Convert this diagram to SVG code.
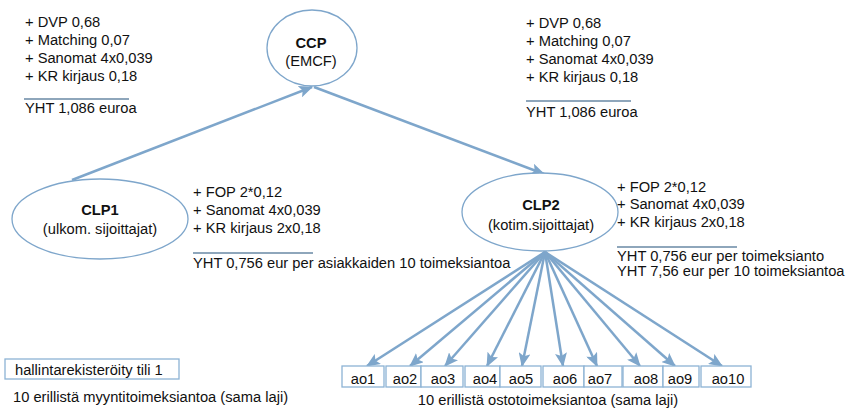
<svg xmlns="http://www.w3.org/2000/svg" width="847" height="411" viewBox="0 0 847 411">
  <style>
    text { font-family: "Liberation Sans", Arial, sans-serif; font-size: 14.7px; fill: #111111; }
    .b { font-weight: bold; }
    .c { text-anchor: middle; }
    .node { fill: #ffffff; stroke: #7ea6cb; stroke-width: 1.3; }
    .box { fill: #ffffff; stroke: #8db3d5; stroke-width: 1.3; }
    .conn { stroke: #7ea6cb; stroke-width: 2.5; fill: none; marker-end: url(#arrow); }
    .rule { stroke: #1f4e79; stroke-width: 1.2; }
  </style>
  <defs>
    <marker id="arrow" markerUnits="userSpaceOnUse" markerWidth="14" markerHeight="12" viewBox="0 0 14 12" refX="13" refY="6" orient="auto">
      <path d="M0,0 L14,6 L0,12 L3,6 Z" fill="#7ea6cb"/>
    </marker>
  </defs>

  <!-- connectors -->
  <g id="connectors">
    <line class="conn" x1="72" y1="180" x2="312" y2="87"/>
    <line class="conn" x1="314" y1="87" x2="544" y2="174"/>
    <line class="conn" x1="545" y1="252" x2="367" y2="366"/>
    <line class="conn" x1="545" y1="252" x2="410" y2="366"/>
    <line class="conn" x1="545" y1="252" x2="445" y2="366"/>
    <line class="conn" x1="545" y1="252" x2="487" y2="366"/>
    <line class="conn" x1="545" y1="252" x2="522" y2="366"/>
    <line class="conn" x1="545" y1="252" x2="563" y2="366"/>
    <line class="conn" x1="545" y1="252" x2="597" y2="366"/>
    <line class="conn" x1="545" y1="252" x2="640" y2="366"/>
    <line class="conn" x1="545" y1="252" x2="675" y2="366"/>
    <line class="conn" x1="545" y1="252" x2="722" y2="366"/>
  </g>

  <!-- clearing nodes -->
  <g id="ccp">
    <ellipse class="node" cx="312" cy="48" rx="45" ry="38"/>
    <text class="b c" x="311" y="48">CCP</text>
    <text class="c" x="311" y="66">(EMCF)</text>
  </g>
  <g id="clp1">
    <ellipse class="node" cx="100" cy="219" rx="88" ry="40"/>
    <text class="b c" x="100" y="215">CLP1</text>
    <text class="c" x="100" y="234">(ulkom. sijoittajat)</text>
  </g>
  <g id="clp2">
    <ellipse class="node" cx="540" cy="212" rx="78" ry="39"/>
    <text class="b c" x="541" y="210">CLP2</text>
    <text class="c" x="541" y="230">(kotim.sijoittajat)</text>
  </g>

  <!-- order boxes -->
  <g id="ao1"><rect class="box" x="342" y="366" width="42" height="21"/><text class="c" x="363" y="384">ao1</text></g>
  <g id="ao2"><rect class="box" x="386" y="366" width="35" height="21"/><text class="c" x="405" y="384">ao2</text></g>
  <g id="ao3"><rect class="box" x="421" y="366" width="42" height="21"/><text class="c" x="443" y="384">ao3</text></g>
  <g id="ao4"><rect class="box" x="465" y="366" width="35" height="21"/><text class="c" x="485" y="384">ao4</text></g>
  <g id="ao5"><rect class="box" x="500" y="366" width="41" height="21"/><text class="c" x="521" y="384">ao5</text></g>
  <g id="ao6"><rect class="box" x="543" y="366" width="41" height="21"/><text class="c" x="565" y="384">ao6</text></g>
  <g id="ao7"><rect class="box" x="584" y="366" width="38" height="21"/><text class="c" x="600" y="384">ao7</text></g>
  <g id="ao8"><rect class="box" x="623" y="366" width="40" height="21"/><text class="c" x="646" y="384">ao8</text></g>
  <g id="ao9"><rect class="box" x="663" y="366" width="36" height="21"/><text class="c" x="680" y="384">ao9</text></g>
  <g id="ao10"><rect class="box" x="701" y="366" width="50" height="21"/><text class="c" x="728" y="384">ao10</text></g>
  <text class="c" x="548" y="405">10 erillistä ostotoimeksiantoa (sama laji)</text>

  <!-- account box -->
  <g id="account">
    <rect class="box" x="5" y="359" width="174" height="20"/>
    <text x="15" y="375">hallintarekisteröity tili 1</text>
  </g>
  <text x="13" y="402">10 erillistä myyntitoimeksiantoa (sama laji)</text>

  <!-- fee summaries -->
  <g id="fees-left">
    <text x="25" y="27">+ DVP 0,68</text>
    <text x="25" y="45">+ Matching 0,07</text>
    <text x="25" y="63">+ Sanomat  4x0,039</text>
    <text x="25" y="81">+ KR kirjaus 0,18</text>
    <line class="rule" x1="24" y1="99" x2="129" y2="99"/>
    <text x="25" y="113">YHT 1,086 euroa</text>
  </g>
  <g id="fees-right">
    <text x="526" y="28">+ DVP 0,68</text>
    <text x="526" y="46">+ Matching 0,07</text>
    <text x="526" y="64">+ Sanomat 4x0,039</text>
    <text x="526" y="82">+ KR kirjaus 0,18</text>
    <line class="rule" x1="526" y1="101" x2="631" y2="101"/>
    <text x="526" y="117">YHT 1,086 euroa</text>
  </g>
  <g id="fees-clp1">
    <text x="193" y="197">+ FOP 2*0,12</text>
    <text x="193" y="215">+ Sanomat 4x0,039</text>
    <text x="193" y="233">+ KR kirjaus 2x0,18</text>
    <line class="rule" x1="193" y1="253" x2="313" y2="253"/>
    <text x="193" y="268">YHT 0,756 eur per asiakkaiden 10 toimeksiantoa</text>
  </g>
  <g id="fees-clp2">
    <text x="617" y="192">+ FOP 2*0,12</text>
    <text x="617" y="209">+ Sanomat 4x0,039</text>
    <text x="617" y="227">+ KR kirjaus  2x0,18</text>
    <line class="rule" x1="617" y1="247" x2="737" y2="247"/>
    <text x="617" y="261">YHT 0,756 eur per toimeksianto</text>
    <text x="617" y="276">YHT 7,56 eur per 10 toimeksiantoa</text>
  </g>
</svg>
